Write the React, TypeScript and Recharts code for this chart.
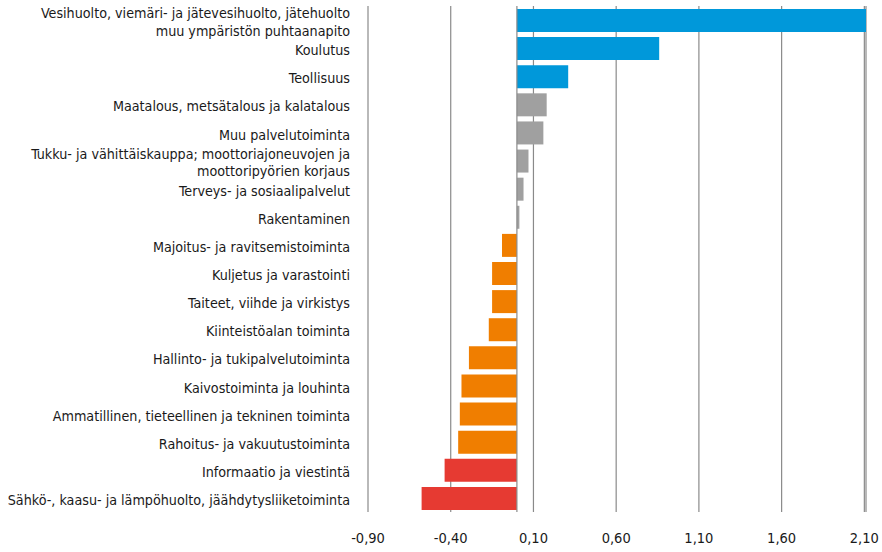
import React from "react"
import { BarChart, Bar, XAxis, YAxis, CartesianGrid, ReferenceLine, Cell } from "recharts"

const toimialat = [
  "Vesihuolto, viemäri- ja jätevesihuolto, jätehuolto\nmuu ympäristön puhtaanapito",
  "Koulutus",
  "Teollisuus",
  "Maatalous, metsätalous ja kalatalous",
  "Muu palvelutoiminta",
  "Tukku- ja vähittäiskauppa; moottoriajoneuvojen ja\nmoottoripyörien korjaus",
  "Terveys- ja sosiaalipalvelut",
  "Rakentaminen",
  "Majoitus- ja ravitsemistoiminta",
  "Kuljetus ja varastointi",
  "Taiteet, viihde ja virkistys",
  "Kiinteistöalan toiminta",
  "Hallinto- ja tukipalvelutoiminta",
  "Kaivostoiminta ja louhinta",
  "Ammatillinen, tieteellinen ja tekninen toiminta",
  "Rahoitus- ja vakuutustoiminta",
  "Informaatio ja viestintä",
  "Sähkö-, kaasu- ja lämpöhuolto, jäähdytysliiketoiminta",
]

const muutos = [
  2.11, 0.86, 0.31, 0.18, 0.16, 0.07, 0.04, 0.015, -0.09, -0.15, -0.15, -0.17,
  -0.29, -0.335, -0.345, -0.355, -0.437, -0.576,
]

// ryhmä per toimiala
const ryhma = [
  "kasvu", "kasvu", "kasvu",
  "vakaa", "vakaa", "vakaa", "vakaa", "vakaa",
  "lasku", "lasku", "lasku", "lasku", "lasku", "lasku", "lasku", "lasku",
  "jyrkka", "jyrkka",
]

const xTicks = [-0.9, -0.4, 0.1, 0.6, 1.1, 1.6, 2.1]

const colors: Record<string, string> = {
  kasvu: "#0098DA",
  vakaa: "#A0A0A0",
  lasku: "#F07E00",
  jyrkka: "#E63A32",
}

const font = "'DejaVu Sans Condensed', 'Liberation Sans Narrow', sans-serif"

const data = toimialat.map((name, i) => ({ name, value: muutos[i], group: ryhma[i] }))

function CategoryTick(props: any) {
  const { x, y, payload } = props
  const lines = String(payload.value).split("\n")
  const lh = 17.7
  return (
    <text x={x} y={y} textAnchor="end" fill="#1a1a1a" fontSize={14.2} fontFamily={font}>
      {lines.map((l, i) => (
        <tspan key={i} x={x} dy={i === 0 ? -((lines.length - 1) * lh) / 2 + 7 : lh}>
          {l}
        </tspan>
      ))}
    </text>
  )
}

export default function App() {
  return (
    <div style={{ position: "absolute", left: 0, top: 0, background: "#fff" }}>
      <BarChart
        width={882}
        height={552}
        data={data}
        layout="vertical"
        margin={{ top: 6, right: 16, bottom: 5, left: 0 }}
      >
        <CartesianGrid horizontal={false} stroke="#8a8a8a" strokeWidth={1.2} />
        <XAxis
          type="number"
          domain={[-0.9, 2.1]}
          ticks={xTicks}
          tickFormatter={(v: number) => v.toFixed(2).replace(".", ",")}
          axisLine={false}
          tickLine={false}
          tickSize={0}
          tickMargin={21}
          height={35}
          tick={{ fontSize: 14.5, fill: "#1a1a1a", fontFamily: font }}
          interval={0}
        />
        <YAxis
          type="category"
          dataKey="name"
          width={368}
          axisLine={false}
          tickLine={false}
          tickSize={0}
          tickMargin={18}
          interval={0}
          tick={<CategoryTick />}
        />
        <ReferenceLine x={0} stroke="#8a8a8a" strokeWidth={1.2} />
        <Bar dataKey="value" barSize={23} isAnimationActive={false}>
          {data.map((d, i) => (
            <Cell key={i} fill={colors[d.group]} />
          ))}
        </Bar>
      </BarChart>
    </div>
  )
}
